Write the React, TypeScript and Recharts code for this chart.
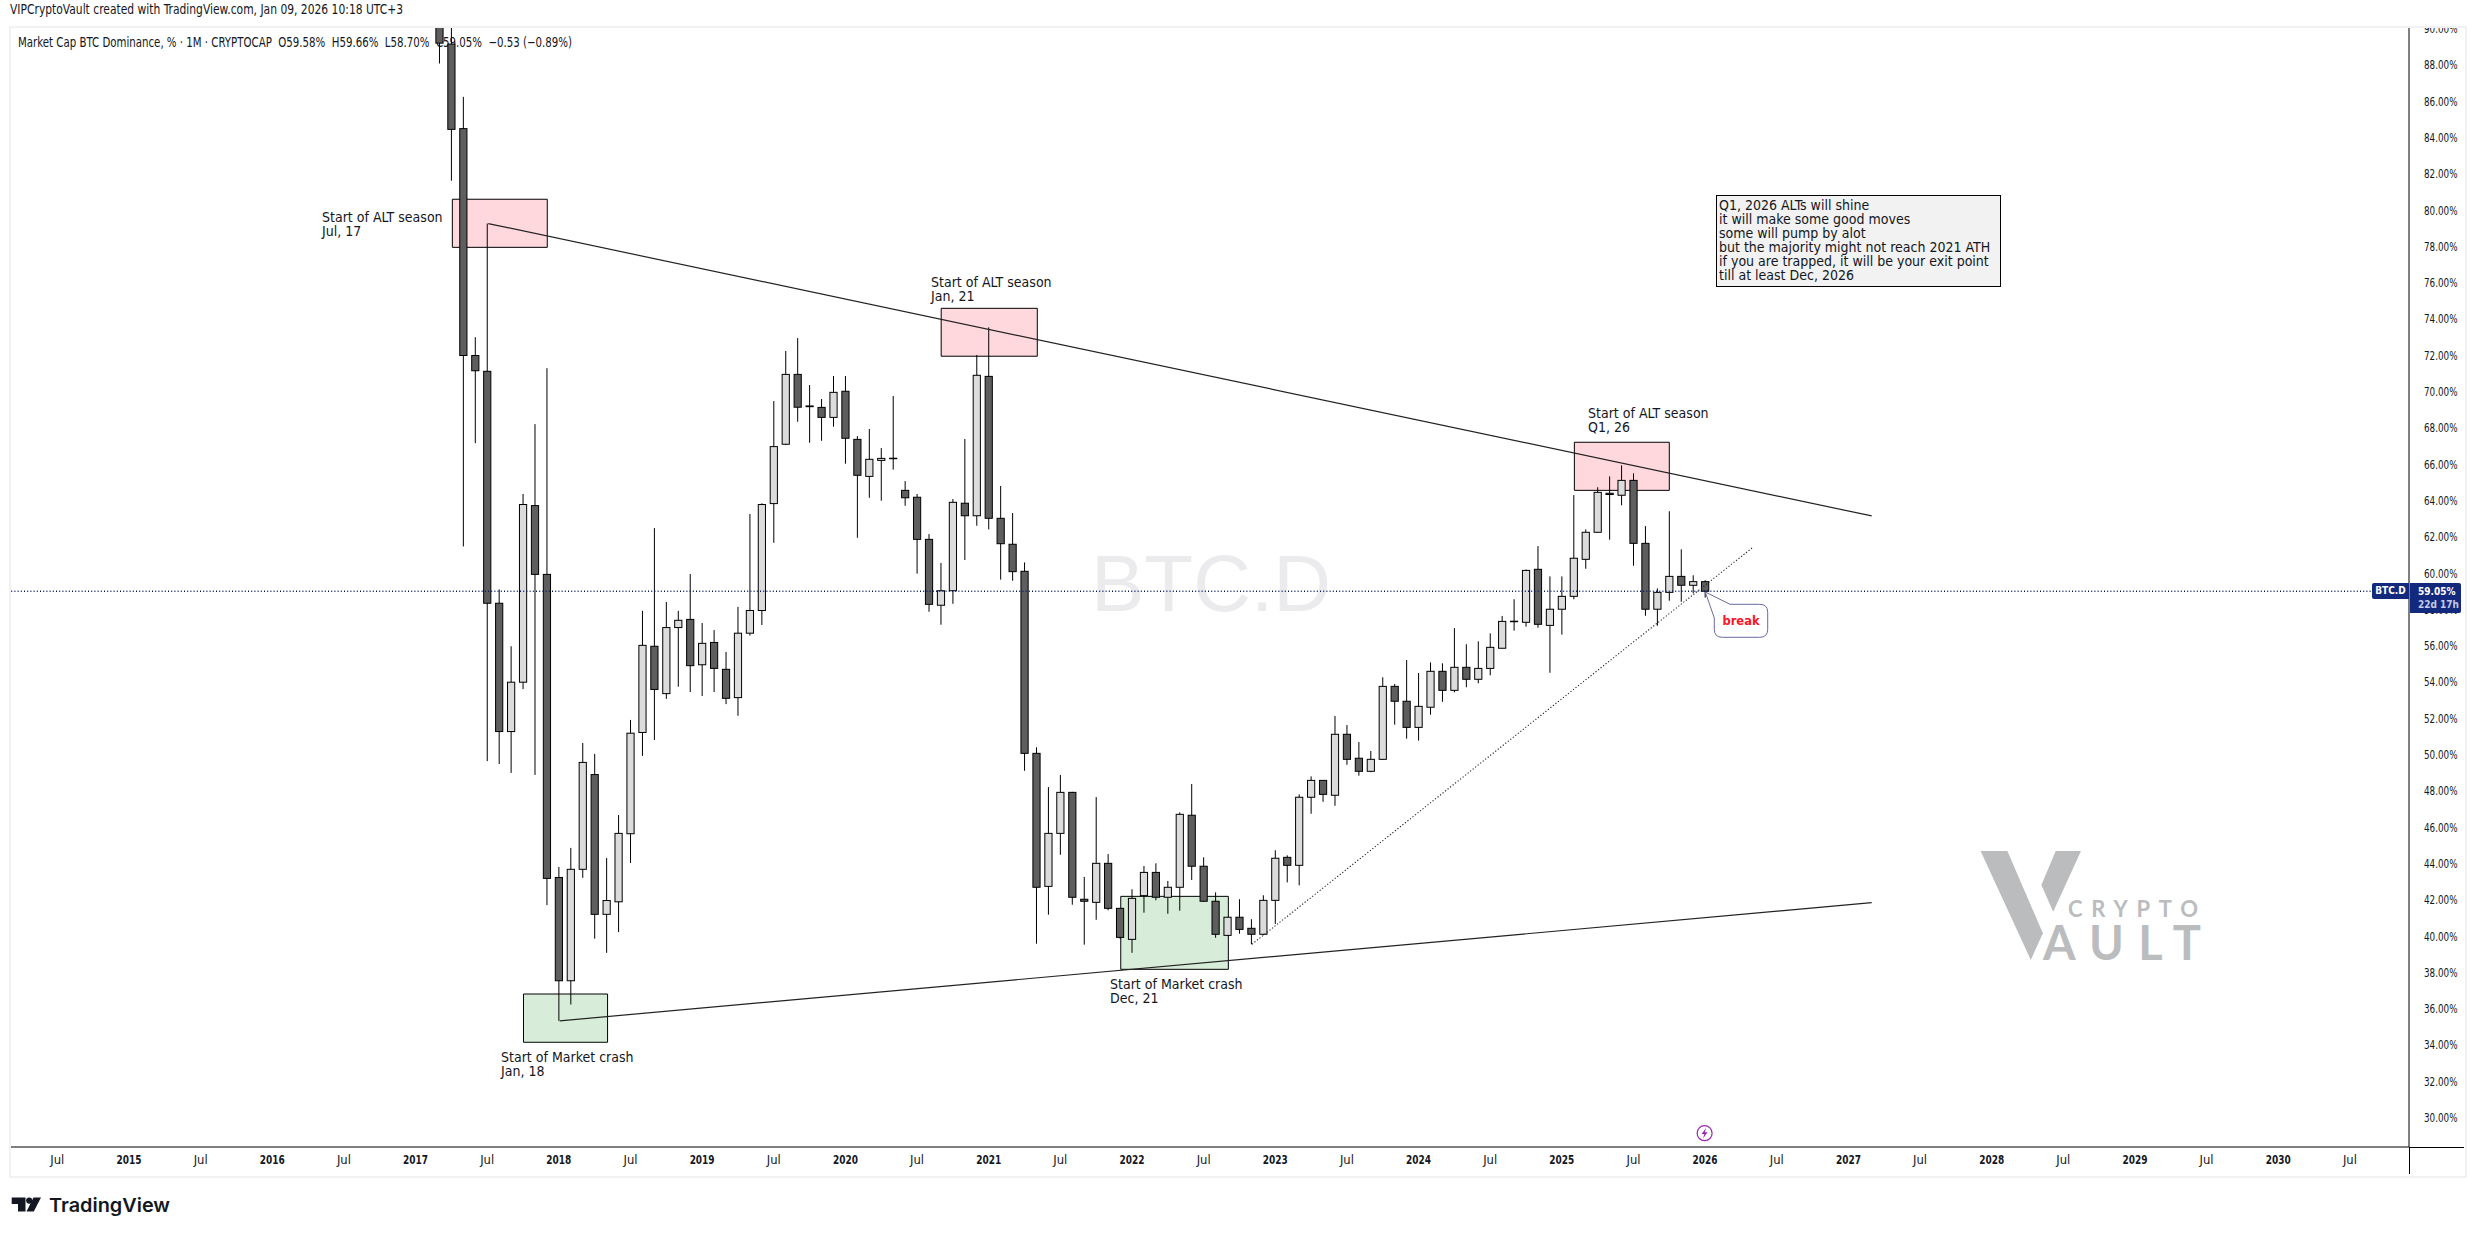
import React from 'react';
import { ComposedChart, Bar, XAxis, YAxis, ReferenceLine, ReferenceArea } from 'recharts';

// months counted from Jan 2014 = 0, first candle is Mar 2017
const FIRST_MONTH = 38;

const opens = [
  91.5, 89.2, 84.54, 72.04, 71.17, 58.39, 51.32, 54.04, 63.77, 59.98,
  43.28, 37.59, 43.73, 48.95, 41.25, 41.94, 45.69, 51.27, 56.02, 53.41, 57.05, 57.5,
  55, 56.23, 54.75, 53.19, 56.74, 57.99, 63.88, 67.15, 71, 69.26, 69.18, 68.63,
  70.07, 67.42, 65.38, 66.26, 66.36, 64.61, 64.23, 61.91, 58.28, 59.08, 63.9, 63.21,
  70.89, 63.07, 61.64, 60.15, 50.12, 42.79, 45.71, 47.97, 42.08, 41.91, 44.06, 41.58,
  39.87, 42.28, 43.56, 42.19, 42.74, 46.71, 43.9, 41.97, 40.09, 41.09, 40.48, 40.15,
  42.02, 44.39, 43.95, 47.7, 48.63, 47.81, 51.17, 49.85, 49.13, 49.79, 53.81, 52.99,
  51.55, 52.66, 54.64, 53.59, 54.86, 54.2, 54.8, 55.91, 57.38, 57.34, 60.26, 57.17,
  58.06, 58.77, 60.81, 62.3, 64.45, 64.34, 65.16, 61.69, 58.06, 58.99, 59.87, 59.38,
  59.58,
];
const highs = [
  92, 91.5, 86.29, 73.05, 79.31, 59.15, 56.02, 64.41, 68.26, 71.34,
  43.86, 44.91, 50.69, 50.09, 44.35, 46.72, 51.96, 57.97, 62.53, 58.46, 57.97, 60,
  57.3, 56.91, 55.71, 58.19, 63.31, 63.9, 69.53, 72.29, 73, 70.41, 69.64, 70.91,
  70.91, 67.6, 67.99, 66.94, 69.81, 65.12, 64.41, 62.2, 60.61, 64.13, 67.44, 72.07,
  73.59, 64.85, 63.36, 60.64, 50.45, 48.26, 48.93, 48, 43.31, 47.71, 44.57, 41.6,
  42.63, 43.91, 44.06, 43.09, 46.87, 48.43, 44.39, 42.46, 41.1, 42.08, 40.98, 42.3,
  44.78, 44.5, 47.86, 48.85, 48.65, 52.18, 51.68, 50.74, 50.25, 54.31, 53.94, 55.26,
  54.55, 55.13, 55.08, 57.02, 56.13, 56.29, 56.73, 57.69, 58.61, 60.25, 61.54, 59.87,
  59.87, 64.35, 62.46, 64.78, 65.38, 65.99, 65.55, 62.64, 59.21, 63.46, 61.36, 59.93,
  59.66,
];
const lows = [
  88.13, 81.67, 61.52, 67.21, 49.69, 49.53, 49.04, 53.66, 48.93, 41.76,
  35.38, 36.28, 43.26, 39.91, 39.13, 40.27, 44.08, 49.98, 50.85, 53.12, 53.79, 53.5,
  53.28, 53.5, 52.83, 52.19, 56.61, 57.19, 61.72, 67.1, 68.39, 67.23, 67.34, 68.12,
  66.08, 62, 64.2, 64.04, 65.75, 63.76, 60.02, 57.92, 57.21, 58.36, 60.77, 62.66,
  62.46, 59.69, 59.63, 49.16, 39.63, 41.23, 44.53, 41.78, 39.58, 40.95, 41.47, 39.9,
  39.13, 41.34, 42.02, 41.28, 41.45, 43.14, 41.95, 39.96, 40.05, 40.18, 39.6, 40.1,
  40.72, 43.01, 42.85, 46.79, 47.45, 47.23, 49.49, 48.89, 49.08, 49.75, 51.7, 50.93,
  50.82, 52.25, 52.96, 53.48, 53.76, 53.98, 54.42, 55.9, 56.88, 57.1, 57.04, 54.56,
  56.66, 58.61, 60.29, 62.28, 61.89, 63.79, 60.46, 57.7, 57.15, 58.53, 58.47, 58.94,
  58.7,
];
const closes = [
  89.25, 84.5, 72.04, 71.2, 58.39, 51.32, 54.04, 63.83, 59.98, 43.23,
  37.59, 43.73, 49.62, 41.25, 42.01, 45.71, 51.23, 56.07, 53.64, 57.05, 57.45, 54.95,
  56.18, 54.8, 53.15, 56.74, 57.99, 63.83, 67.02, 71, 69.19, 69.22, 68.63, 70.01,
  67.48, 65.44, 66.32, 66.37, 66.38, 64.2, 61.91, 58.33, 59.08, 63.95, 63.21, 70.95,
  63.07, 61.67, 60.13, 50.12, 42.74, 45.71, 47.97, 42.19, 41.97, 44.06, 41.58, 39.98,
  42.13, 43.56, 42.19, 42.74, 46.76, 43.9, 41.97, 40.15, 41.09, 40.42, 40.15, 42.02,
  44.34, 43.95, 47.7, 48.63, 47.86, 51.17, 49.79, 49.13, 49.79, 53.81, 52.99, 51.55,
  52.71, 54.64, 53.59, 54.86, 54.2, 54.8, 55.96, 57.39, 57.4, 60.2, 57.23, 58.06,
  58.77, 60.87, 62.3, 64.5, 64.38, 65.16, 61.69, 58.06, 58.99, 59.87, 59.38, 59.58,
  59.05,
];

const priceTicks = [30, 32, 34, 36, 38, 40, 42, 44, 46, 48, 50, 52, 54, 56, 58, 60, 62, 64, 66, 68, 70, 72, 74, 76, 78, 80, 82, 84, 86, 88, 90];
const timeTicks = [6, 12, 18, 24, 30, 36, 42, 48, 54, 60, 66, 72, 78, 84, 90, 96, 102, 108, 114, 120, 126, 132, 138, 144, 150, 156, 162, 168, 174, 180, 186, 192, 198];

const LAST_PRICE = 59.05;

// drawings on the chart, in month / percent
const pinkBoxes = [
  { x1: 39.08, x2: 47.03, y1: 78.0, y2: 80.65 },
  { x1: 80.02, x2: 88.07, y1: 72.0, y2: 74.64 },
  { x1: 133.05, x2: 141.0, y1: 64.61, y2: 67.26 },
];
const greenBoxes = [
  { x1: 45.04, x2: 52.08, y1: 34.2, y2: 36.86 },
  { x1: 95.06, x2: 104.07, y1: 38.22, y2: 42.24 },
];
const trendLines = [
  [{ x: 42.09, y: 79.31 }, { x: 157.95, y: 63.2 }],
  [{ x: 48.07, y: 35.38 }, { x: 157.95, y: 41.89 }],
];
const dottedLine = [{ x: 106.05, y: 39.6 }, { x: 148, y: 61.47 }];

const noteLines = [
  'Q1, 2026 ALTs will shine',
  'it will make some good moves',
  'some will pump by alot',
  'but the majority might not reach 2021 ATH',
  'if you are trapped, it will be your exit point',
  'till at least Dec, 2026',
];

const labels = [
  { left: 322, top: 210, lines: ['Start of ALT season', 'Jul, 17'] },
  { left: 931, top: 275, lines: ['Start of ALT season', 'Jan, 21'] },
  { left: 1588, top: 406, lines: ['Start of ALT season', 'Q1, 26'] },
  { left: 501, top: 1050, lines: ['Start of Market crash', 'Jan, 18'] },
  { left: 1110, top: 977, lines: ['Start of Market crash', 'Dec, 21'] },
];

const chartData = opens.map((open, i) => ({
  month: FIRST_MONTH + i,
  open,
  high: highs[i],
  low: lows[i],
  close: closes[i],
}));

const UI_FONT = '"DejaVu Sans", sans-serif';
const CONDENSED = { fontStretch: 'condensed' } as const;

function Candle(props: any) {
  const { x, y, width, height, payload } = props;
  const perUnit = height / (payload.high - payload.low);
  const cx = x + width / 2;
  const openY = y + (payload.high - payload.open) * perUnit;
  const closeY = y + (payload.high - payload.close) * perUnit;
  const top = Math.min(openY, closeY);
  const bodyH = Math.max(Math.abs(openY - closeY), 0.5);
  const up = payload.close >= payload.open;
  return (
    <g>
      <line x1={cx} x2={cx} y1={y} y2={y + height} stroke="#000" strokeWidth={1} />
      <rect x={cx - 3.6} y={top} width={7.2} height={bodyH} fill={up ? '#dcdcdc' : '#5e5e5e'} stroke="#000" strokeWidth={1} />
    </g>
  );
}

function TimeTick(props: any) {
  const { x, y, payload } = props;
  const isYear = payload.value % 12 === 0;
  const text = isYear ? String(2014 + payload.value / 12) : 'Jul';
  return (
    <text x={x} y={y + 5} textAnchor="middle" dominantBaseline="middle" fontFamily={UI_FONT} style={CONDENSED} fontSize={13} fontWeight={isYear ? 700 : 400} fill="#131722" textLength={isYear ? 25 : 14} lengthAdjust="spacingAndGlyphs">
      {text}
    </text>
  );
}

function PriceTick(props: any) {
  const { x, y, payload } = props;
  return (
    <text x={x} y={y} textAnchor="start" dominantBaseline="middle" fontFamily={UI_FONT} style={CONDENSED} fontSize={12.5} fill="#131722" textLength={33.5} lengthAdjust="spacingAndGlyphs">
      {`${payload.value.toFixed(2)}%`}
    </text>
  );
}

function Text({ left, top, children, style }: any) {
  return (
    <div style={{ position: 'absolute', left, top, whiteSpace: 'pre', fontFamily: UI_FONT, fontStretch: 'condensed', fontSize: 14, lineHeight: '14px', color: '#131722', ...style }}>
      {children}
    </div>
  );
}

export default function App() {
  return (
    <div style={{ position: 'absolute', left: 0, top: 0, width: 2475, height: 1235, background: '#fff', overflow: 'hidden' }}>
      <div style={{ position: 'absolute', left: 1091, top: 534, fontFamily: '"Liberation Sans", sans-serif', fontSize: 80, lineHeight: '100px', color: '#ebebee' }}>
        BTC.D
      </div>

      <svg width={2475} height={1235} style={{ position: 'absolute', left: 0, top: 0 }}>
        <text x={18} y={46.5} fontFamily={UI_FONT} style={CONDENSED} fontSize={13.5} fill="#131722" textLength={554} lengthAdjust="spacingAndGlyphs" xmlSpace="preserve">
          {'Market Cap BTC Dominance, % · 1M · CRYPTOCAP  O59.58%  H59.66%  L58.70%  C59.05%  −0.53 (−0.89%)'}
        </text>
        <polygon points="1980.6,851 2007.4,851 2042.9,933.3 2030.8,960" fill="#bbbcbe" />
        <polygon points="2055.7,851 2081,851 2053.2,911.7 2041.4,885" fill="#bbbcbe" />
        <text x={2068} y={917.3} fontFamily="Lato, sans-serif" fontWeight={700} fontSize={22} fill="#bbbcbe" textLength={130} lengthAdjust="spacing">CRYPTO</text>
        <text x={2043} y={960} fontFamily="Lato, sans-serif" fontWeight={700} fontSize={47} fill="#bbbcbe" textLength={158} lengthAdjust="spacing">AULT</text>
      </svg>

      <div style={{ position: 'absolute', left: 0, top: 0 }}>
        <ComposedChart
          width={2475}
          height={1235}
          data={chartData}
          margin={{ top: 27, right: 10, bottom: 61, left: 10 }}
        >
          <XAxis
            dataKey="month"
            type="number"
            domain={[2.034, 202.95]}
            allowDataOverflow
            ticks={timeTicks}
            interval={0}
            height={27}
            tick={<TimeTick />}
            tickLine={false}
            axisLine={{ stroke: '#000', strokeWidth: 1 }}
          />
          <YAxis
            orientation="right"
            type="number"
            domain={[28.43, 90.14]}
            allowDataOverflow
            ticks={priceTicks}
            interval={0}
            width={56}
            tickLine={false}
            tickMargin={9}
            axisLine={{ stroke: '#000', strokeWidth: 1 }}
            tick={<PriceTick />}
          />
          <Bar
            dataKey={(r: any) => [r.low, r.high]}
            barSize={8}
            isAnimationActive={false}
            shape={<Candle />}
          />
          {pinkBoxes.map((b, i) => (
            <ReferenceArea key={`p${i}`} {...b} fill="#ff4d64" fillOpacity={0.22} stroke="#000" strokeWidth={1} />
          ))}
          {greenBoxes.map((b, i) => (
            <ReferenceArea key={`g${i}`} {...b} fill="#4caf50" fillOpacity={0.22} stroke="#000" strokeWidth={1} />
          ))}
          {trendLines.map((s, i) => (
            <ReferenceLine key={`t${i}`} segment={s} stroke="#222" strokeWidth={1.2} />
          ))}
          <ReferenceLine segment={dottedLine} stroke="#222" strokeWidth={1.1} strokeDasharray="1.2 2" />
          <ReferenceLine y={LAST_PRICE} stroke="#0b1a66" strokeWidth={1.3} strokeDasharray="1 2.2" />
        </ComposedChart>
      </div>

      {/* page header above the pane, hides what pokes out on top */}
      <div style={{ position: 'absolute', left: 0, top: 0, width: 2475, height: 26, background: '#fff' }} />
      <div style={{ position: 'absolute', left: 9, top: 26, width: 2454, height: 1148, border: '2px solid #f2f2f2', boxSizing: 'content-box', pointerEvents: 'none' }} />
      <div style={{ position: 'absolute', left: 2410, top: 1147, width: 54, height: 1, background: '#000' }} />
      <div style={{ position: 'absolute', left: 2409, top: 1147, width: 1, height: 27, background: '#000' }} />

      {labels.map((l, i) => (
        <Text key={i} left={l.left} top={l.top}>
          {l.lines.join('\n')}
        </Text>
      ))}

      <div style={{ position: 'absolute', left: 1716, top: 195, width: 283, height: 90, background: '#f2f2f2', border: '1px solid #000', boxSizing: 'content-box' }} />
      <Text left={1719} top={198}>{noteLines.join('\n')}</Text>

      <div style={{ position: 'absolute', left: 2372, top: 583, width: 37, height: 16, background: '#12297d', borderRadius: '2px 0 0 2px', color: '#fff', fontFamily: UI_FONT, fontStretch: 'condensed', fontSize: 10, fontWeight: 700, lineHeight: '16px', textAlign: 'center' }}>
        BTC.D
      </div>
      <div style={{ position: 'absolute', left: 2410, top: 583, width: 51, height: 30, background: '#12297d', borderRadius: '0 2px 2px 0', fontFamily: UI_FONT, fontStretch: 'condensed', fontSize: 10, fontWeight: 700, lineHeight: '13px', paddingTop: 2, boxSizing: 'border-box', paddingLeft: 8, whiteSpace: 'nowrap' }}>
        <div style={{ color: '#fff' }}>59.05%</div>
        <div style={{ color: '#c5cbe3' }}>22d 17h</div>
      </div>

      <svg width={2475} height={1235} style={{ position: 'absolute', left: 0, top: 0, pointerEvents: 'none' }}>
        <text x={10} y={14} fontFamily={UI_FONT} style={CONDENSED} fontSize={13.5} fill="#131722" textLength={393} lengthAdjust="spacingAndGlyphs">
          VIPCryptoVault created with TradingView.com, Jan 09, 2026 10:18 UTC+3
        </text>

        <path d="M1705.3 592 L1730 604.3 H1759.7 Q1767.7 604.3 1767.7 612.3 V629.3 Q1767.7 637.3 1759.7 637.3 H1722.3 Q1714.3 637.3 1714.3 629.3 V618 Z" fill="#fff" stroke="#6a6a9e" strokeWidth={1} />
        <text x={1741} y={624.5} textAnchor="middle" fontFamily={UI_FONT} fontSize={11.5} fontWeight={700} fill="#f7162a">break</text>

        <circle cx={1704.6} cy={1133.2} r={7.5} fill="#fff" stroke="#9c27b0" strokeWidth={1.2} />
        <path d="M1706.2 1127.8 L1701.6 1134 H1704.4 L1703 1138.6 L1707.6 1132.2 H1704.8 Z" fill="#9c27b0" />

        <path d="M11.7 1197.4 H25.5 V1211.6 H18 V1204 H11.7 Z" fill="#131722" />
        <circle cx={29.2} cy={1200.6} r={3.1} fill="#131722" />
        <path d="M33.5 1197.4 H41 L33.8 1211.6 H26.5 Z" fill="#131722" />
        <text x={49} y={1211.5} fontFamily="Inter, sans-serif" fontSize={19} fontWeight={600} fill="#131722" textLength={121} lengthAdjust="spacingAndGlyphs">TradingView</text>
      </svg>
    </div>
  );
}
